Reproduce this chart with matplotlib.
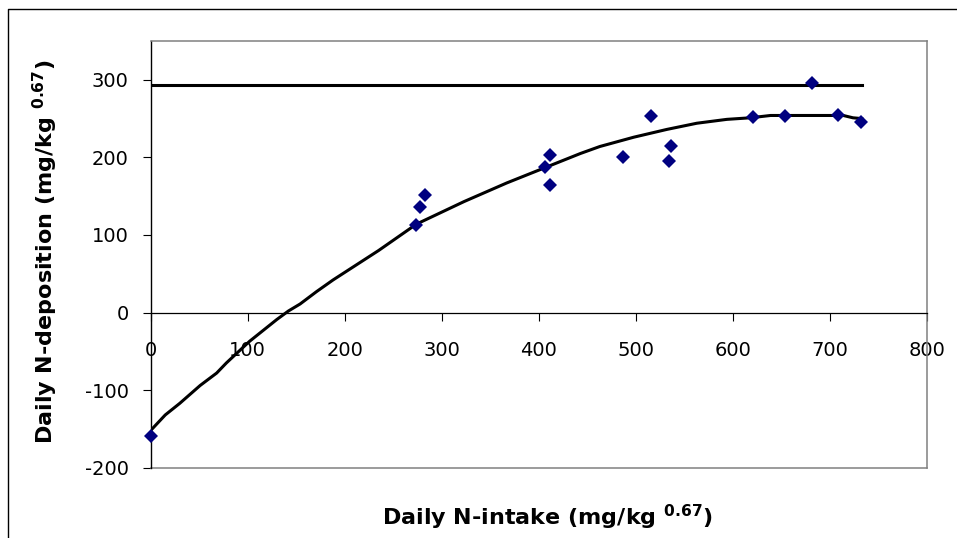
import matplotlib
matplotlib.use('Agg')
import matplotlib.pyplot as plt
from matplotlib.lines import Line2D

plt.rcParams['font.family'] = ['DejaVu Sans']
plt.rcParams['mathtext.fontset'] = 'dejavusans'
plt.rcParams['axes.unicode_minus'] = False

# observed points (diamonds)
intake = [0, 274, 278, 283, 407, 412, 412, 487, 516, 534, 536, 621, 654, 682, 709, 732]
deposition = [-159, 113, 136, 152, 187, 203, 164, 200, 253, 195, 215, 252, 253, 296, 254, 246]

# fitted curve
fit_x = [0, 15, 30, 51, 68, 78, 102, 130, 142, 154, 171, 188, 235, 274, 323, 367,
         407, 443, 463, 498, 532, 563, 594, 618, 639, 714, 724, 733]
fit_y = [-152, -132, -117, -94, -78, -65, -37, -9, 2, 11, 27, 42, 80, 114, 143, 167,
         187, 205, 214, 226, 236, 244, 249, 251, 254, 254, 251, 250]

# maximum deposition line
max_x = [0, 733]
max_y = [293, 293]

xticks = [0, 100, 200, 300, 400, 500, 600, 700, 800]
yticks = [-200, -100, 0, 100, 200, 300]

fig = plt.figure(figsize=(9.57, 5.38), dpi=100)
ax = fig.add_axes([150.7/957, 1 - 467.7/538, 776/957, 426.7/538])

ax.plot(fit_x, fit_y, color='black', lw=2.2, zorder=3)
ax.plot(max_x, max_y, color='black', lw=2.2, zorder=3)
ax.plot(intake, deposition, ls='none', marker='D', ms=6.8, mew=0,
        color='#000080', zorder=4, clip_on=False)

ax.set_xlim(0, 800)
ax.set_ylim(-200, 350)
ax.set_xticks(xticks)
ax.set_yticks(yticks)

# x axis crosses at y = 0
ax.spines['bottom'].set_position(('data', 0))
ax.spines['bottom'].set_color('black')
ax.spines['bottom'].set_linewidth(0.9)
ax.spines['left'].set_color('black')
ax.spines['left'].set_linewidth(1.0)
for s in ['top', 'right']:
    ax.spines[s].set_color('#808080')
    ax.spines[s].set_linewidth(1.1)
ax.plot([0, 1], [0, 0], transform=ax.transAxes, color='#808080', lw=1.1, clip_on=False)

ax.tick_params(axis='x', direction='out', length=5.8, width=0.8, pad=14.5, labelsize=14)
ax.tick_params(axis='y', direction='out', length=5.8, width=0.8, pad=10, labelsize=14)

fig.text(547/957, 1 - 525/538, r'Daily N-intake (mg/kg $^{\mathbf{0.67}}$)',
         ha='center', va='baseline', fontsize=16, fontweight='bold')
fig.text(53/957, 1 - 252/538, r'Daily N-deposition (mg/kg $^{\mathbf{0.67}}$)',
         ha='center', va='baseline', rotation=90, fontsize=16, fontweight='bold',
         rotation_mode='anchor')

# outer chart border (only left and top visible)
fig.add_artist(Line2D([8/957, 8/957, 1.0], [0, 1 - 9/538, 1 - 9/538],
                      transform=fig.transFigure, color='black', lw=1.0))

fig.savefig('out.png', dpi=100)
